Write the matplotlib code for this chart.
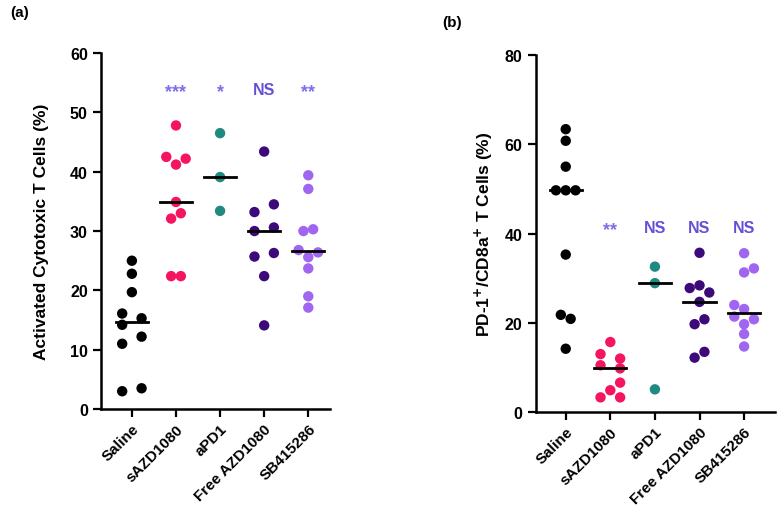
import matplotlib.pyplot as plt
import numpy as np

plt.rcParams['font.family'] = ['Liberation Sans', 'DejaVu Sans']

groups = ['Saline', 'sAZD1080', 'aPD1', 'Free AZD1080', 'SB415286']
colors = ['#000000', '#f5145f', '#1f8a80', '#3d0a7a', '#a066f0']

# panel (a): activated cytotoxic T cells (%)
a_saline = [25.0, 22.8, 19.7, 16.1, 15.3, 14.2, 12.2, 11.0, 3.5, 3.0]
a_sazd = [47.8, 42.5, 42.2, 41.2, 34.9, 33.0, 32.1, 22.4, 22.4]
a_apd1 = [46.5, 39.1, 33.4]
a_free = [43.4, 34.5, 33.2, 30.6, 30.0, 26.3, 25.7, 22.4, 14.1]
a_sb = [39.4, 37.1, 30.0, 30.3, 26.8, 26.4, 25.6, 23.7, 19.0, 17.1]
a_signif = ['', '***', '*', 'NS', '**']

# panel (b): PD-1+/CD8a+ T cells (%)
b_saline = [63.4, 60.8, 55.0, 49.7, 49.7, 49.7, 35.3, 21.8, 20.9, 14.2]
b_sazd = [15.7, 13.0, 12.0, 10.5, 9.8, 6.6, 4.9, 3.3, 3.3]
b_apd1 = [32.6, 28.9, 5.1]
b_free = [35.7, 28.4, 27.8, 26.8, 24.7, 20.8, 19.7, 13.5, 12.2]
b_sb = [35.6, 32.2, 31.3, 24.0, 23.1, 21.4, 20.8, 19.7, 17.5, 14.7]
b_signif = ['', '**', 'NS', 'NS', 'NS']

# horizontal swarm offsets (in half-dot steps), same order as the values
a_jitter = [[0, 0, 0, -2, 2, -2, 2, -2, 2, -2],
            [0, -2, 2, 0, 0, 1, -1, -1, 1],
            [0, 0, 0],
            [0, 2, -2, 2, -2, 2, -2, 0, 0],
            [0, 0, -1, 1, -2, 2, 0, 0, 0, 0]]
b_jitter = [[0, 0, 0, -2, 0, 2, 0, -1, 1, 0],
            [0, -2, 2, -2, 2, 2, 0, -2, 2],
            [0, 0, 0],
            [0, 0, -2, 2, 0, 1, -1, 1, -1],
            [0, 2, 0, -2, 0, -2, 2, 0, 0, 0]]

a_data = [a_saline, a_sazd, a_apd1, a_free, a_sb]
b_data = [b_saline, b_sazd, b_apd1, b_free, b_sb]

fig = plt.figure(figsize=(7.8, 5.1), dpi=100)
ax1 = fig.add_axes([0.1295, 0.196, 0.294, 0.698])
ax2 = fig.add_axes([0.687, 0.190, 0.307, 0.700])


def draw_panel(ax, data, jitter, signif, ymax, ystep, sig_y, ylabel, xlim, pad):
    for i, (vals, jit) in enumerate(zip(data, jitter)):
        xs = i + np.array(jit) * 0.11
        ax.scatter(xs, vals, s=56, color=colors[i], edgecolors='none',
                   zorder=3, clip_on=False)
        ax.plot([i - 0.36, i + 0.36], [np.median(vals)] * 2,
                color='black', lw=2, zorder=4)
        if signif[i]:
            if signif[i] == 'NS':
                ax.text(i, sig_y + 0.4, 'NS', ha='center', va='center',
                        fontsize=11.5, fontweight='bold', color='#6650d8')
            else:
                ax.text(i, sig_y, signif[i], ha='center', va='center',
                        fontsize=13, fontweight='bold', color='#7b6fe6')
    ax.set_xlim(*xlim)
    ax.set_ylim(0, ymax)
    ax.set_yticks(np.arange(0, ymax + 1, ystep))
    ax.set_xticks(range(len(groups)))
    ax.set_xticklabels(groups, rotation=45, ha='right',
                       rotation_mode='anchor', fontweight='bold', fontsize=11)
    for lab in ax.get_yticklabels():
        lab.set_fontweight('bold')
        lab.set_fontsize(11.5)
    ax.tick_params(axis='both', width=1.6, length=6)
    ax.tick_params(axis='x', pad=3)
    for side in ['top', 'right']:
        ax.spines[side].set_visible(False)
    for side in ['left', 'bottom']:
        ax.spines[side].set_linewidth(1.8)
    ax.set_ylabel(ylabel, fontsize=12.5, fontweight='bold', labelpad=pad)


draw_panel(ax1, a_data, a_jitter, a_signif, 60, 10, 53.5,
           'Activated Cytotoxic T Cells (%)', (-0.7, 4.5), 15)
draw_panel(ax2, b_data, b_jitter, b_signif, 80, 20, 41.0,
           r'PD-1$^{\mathbf{+}}$/CD8a$^{\mathbf{+}}$ T Cells (%)', (-0.67, 4.7), 7)

fig.text(0.013, 0.975, '(a)', fontsize=11, fontweight='bold', va='center')
fig.text(0.567, 0.955, '(b)', fontsize=11, fontweight='bold', va='center')

plt.savefig('out.png', dpi=100)
